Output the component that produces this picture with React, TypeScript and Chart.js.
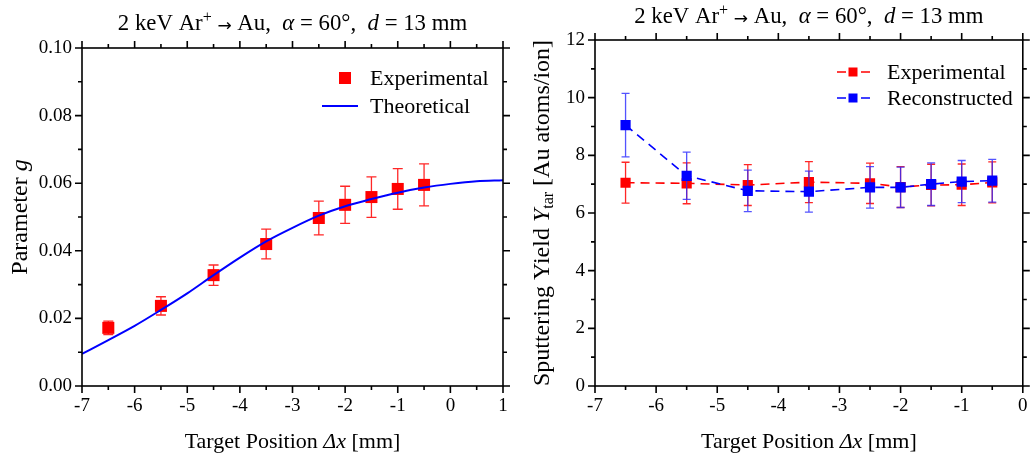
import React, { useEffect, useRef } from 'react';
import { Chart, registerables } from 'chart.js';

Chart.register(...registerables);

const SERIF = '"Liberation Serif", "Times New Roman", Times, serif';
const SANS = '"DejaVu Sans", sans-serif';

// ---------- Left panel data ----------
const leftXTicks = [-7, -6, -5, -4, -3, -2, -1, 0, 1];
const leftYTicks = [0, 0.02, 0.04, 0.06, 0.08, 0.1];
const expPosL = [-6.5, -5.5, -4.5, -3.5, -2.5, -2, -1.5, -1, -0.5];
const expG = [0.0172, 0.0237, 0.0328, 0.042, 0.0497, 0.0536, 0.0559, 0.0583, 0.0595];
const expGErr = [0.002, 0.0027, 0.003, 0.0044, 0.005, 0.0055, 0.006, 0.006, 0.0062];
const theoPos = [-7, -6.5, -6, -5.5, -5, -4.5, -4, -3.5, -3, -2.5, -2, -1.5, -1, -0.5, 0, 0.5, 1];
const theoG = [0.0095, 0.0136, 0.0178, 0.0225, 0.0274, 0.0328, 0.038, 0.0428, 0.0468, 0.0504, 0.0532, 0.0553, 0.0572, 0.0587, 0.0598, 0.0606, 0.0609];

// ---------- Right panel data ----------
const rightXTicks = [-7, -6, -5, -4, -3, -2, -1, 0];
const rightYTicks = [0, 2, 4, 6, 8, 10, 12];
const posR = [-6.5, -5.5, -4.5, -3.5, -2.5, -2, -1.5, -1, -0.5];
const expYield = [7.05, 7.03, 6.97, 7.07, 7.03, 6.9, 6.97, 6.98, 7.06];
const expYieldErr = [0.71, 0.71, 0.71, 0.71, 0.7, 0.71, 0.72, 0.72, 0.71];
const recYield = [9.05, 7.29, 6.77, 6.74, 6.89, 6.89, 7.0, 7.09, 7.12];
const recYieldErr = [1.1, 0.82, 0.72, 0.71, 0.72, 0.7, 0.74, 0.73, 0.74];

type Seg = { t: string; it?: boolean; sz?: number; dy?: number; fam?: string };

function drawRich(ctx: CanvasRenderingContext2D, segs: Seg[], cx: number, cy: number, base: number, rot = false) {
  ctx.save();
  ctx.translate(cx, cy);
  if (rot) ctx.rotate(-Math.PI / 2);
  const font = (s: Seg) => `${s.it ? 'italic ' : ''}${s.sz ?? base}px ${s.fam ?? SERIF}`;
  let total = 0;
  for (const s of segs) {
    ctx.font = font(s);
    total += ctx.measureText(s.t).width;
  }
  let x = -total / 2;
  ctx.fillStyle = '#000';
  ctx.textAlign = 'left';
  ctx.textBaseline = 'alphabetic';
  const by = base * 0.33;
  for (const s of segs) {
    ctx.font = font(s);
    ctx.fillText(s.t, x, by + (s.dy ?? 0));
    x += ctx.measureText(s.t).width;
  }
  ctx.restore();
}

const titleSegs: Seg[] = [
  { t: '2 keV Ar' },
  { t: '+', sz: 16, dy: -8 },
  { t: ' ' },
  { t: '\u2192', sz: 17, fam: SANS, dy: 1 },
  { t: ' Au,  ' },
  { t: '\u03B1', it: true },
  { t: ' = 60\u00B0,  ' },
  { t: 'd', it: true },
  { t: ' = 13 mm' },
];
const xTitleSegs: Seg[] = [{ t: 'Target Position ' }, { t: '\u0394x', it: true }, { t: ' [mm]' }];

const errorBarPlugin = {
  id: 'errorBars',
  beforeDatasetDraw(chart: any, args: any) {
    const ds = chart.data.datasets[args.index];
    if (!ds.errors) return;
    const ctx = chart.ctx as CanvasRenderingContext2D;
    const xs = chart.scales.x;
    const ys = chart.scales.y;
    const cap = ds.capHalf ?? 5;
    ctx.save();
    ctx.strokeStyle = ds.errorColor;
    ctx.lineWidth = 1.3;
    ctx.beginPath();
    ds.data.forEach((p: any, i: number) => {
      const e = ds.errors[i];
      const px = xs.getPixelForValue(p.x);
      const t = ys.getPixelForValue(p.y + e);
      const b = ys.getPixelForValue(p.y - e);
      ctx.moveTo(px, t);
      ctx.lineTo(px, b);
      ctx.moveTo(px - cap, t);
      ctx.lineTo(px + cap, t);
      ctx.moveTo(px - cap, b);
      ctx.lineTo(px + cap, b);
    });
    ctx.stroke();
    ctx.restore();
  },
};

const framePlugin = {
  id: 'frameTicks',
  afterDatasetsDraw(chart: any) {
    const ctx = chart.ctx as CanvasRenderingContext2D;
    const a = chart.chartArea;
    const xs = chart.scales.x;
    const ys = chart.scales.y;
    const xt: number[] = xs.ticks.map((t: any) => t.value);
    const yt: number[] = ys.ticks.map((t: any) => t.value);
    const mids = (arr: number[]) => arr.slice(1).map((v, i) => (v + arr[i]) / 2);
    const MAJ = 7;
    const MIN = 4;
    ctx.save();
    ctx.strokeStyle = '#000';
    ctx.lineWidth = 1.6;
    ctx.strokeRect(a.left, a.top, a.right - a.left, a.bottom - a.top);
    ctx.beginPath();
    const xTick = (v: number, len: number) => {
      const px = xs.getPixelForValue(v);
      ctx.moveTo(px, a.bottom);
      ctx.lineTo(px, a.bottom + len);
      ctx.moveTo(px, a.top);
      ctx.lineTo(px, a.top - len);
    };
    const yTick = (v: number, len: number) => {
      const py = ys.getPixelForValue(v);
      ctx.moveTo(a.left, py);
      ctx.lineTo(a.left - len, py);
      ctx.moveTo(a.right, py);
      ctx.lineTo(a.right + len, py);
    };
    xt.forEach((v) => xTick(v, MAJ));
    mids(xt).forEach((v) => xTick(v, MIN));
    yt.forEach((v) => yTick(v, MAJ));
    mids(yt).forEach((v) => yTick(v, MIN));
    ctx.stroke();
    ctx.restore();
  },
};

function makeOptions(p: {
  yWidth: number; xHeight: number; padTop: number; padRight: number;
  xMin: number; xMax: number; yMin: number; yMax: number;
  xTicks: number[]; yTicks: number[]; yFmt: (v: number) => string;
}) {
  const tickFont = { family: SERIF, size: 19 };
  return {
    responsive: false,
    maintainAspectRatio: false,
    animation: false,
    devicePixelRatio: 1,
    events: [],
    layout: { padding: { top: p.padTop, right: p.padRight, left: 0, bottom: 0 } },
    plugins: { legend: { display: false }, tooltip: { enabled: false }, title: { display: false } },
    scales: {
      x: {
        type: 'linear',
        min: p.xMin,
        max: p.xMax,
        afterBuildTicks: (s: any) => { s.ticks = p.xTicks.map((v) => ({ value: v })); },
        afterFit: (s: any) => { s.height = p.xHeight; s.paddingLeft = 0; s.paddingRight = 0; },
        grid: { display: false, drawTicks: false },
        border: { display: false },
        ticks: { color: '#000', font: tickFont, padding: 9, maxRotation: 0, autoSkip: false, callback: (v: any) => String(v) },
      },
      y: {
        type: 'linear',
        min: p.yMin,
        max: p.yMax,
        afterBuildTicks: (s: any) => { s.ticks = p.yTicks.map((v) => ({ value: v })); },
        afterFit: (s: any) => { s.width = p.yWidth; s.paddingTop = 0; s.paddingBottom = 0; },
        grid: { display: false, drawTicks: false },
        border: { display: false },
        ticks: { color: '#000', font: tickFont, padding: 10, autoSkip: false, callback: (v: any) => p.yFmt(Number(v)) },
      },
    },
  };
}

function legendText(ctx: CanvasRenderingContext2D, text: string, x: number, y: number) {
  ctx.save();
  ctx.fillStyle = '#000';
  ctx.font = `22px ${SERIF}`;
  ctx.textAlign = 'left';
  ctx.textBaseline = 'alphabetic';
  ctx.fillText(text, x, y + 7);
  ctx.restore();
}

const TITLE_SIZE = 22.8;

function leftConfig(): any {
  const deco = {
    id: 'decoLeft',
    afterDraw(chart: any) {
      const ctx = chart.ctx as CanvasRenderingContext2D;
      const a = chart.chartArea;
      const cx = (a.left + a.right) / 2;
      drawRich(ctx, titleSegs, cx, 22, TITLE_SIZE);
      drawRich(ctx, xTitleSegs, cx, 441, 22);
      drawRich(ctx, [{ t: 'Parameter ' }, { t: 'g', it: true }], 19, (a.top + a.bottom) / 2, 24, true);
      ctx.save();
      ctx.fillStyle = '#ff0000';
      ctx.fillRect(339, 72, 12, 12);
      ctx.strokeStyle = '#0000ff';
      ctx.lineWidth = 2;
      ctx.beginPath();
      ctx.moveTo(322, 106);
      ctx.lineTo(358, 106);
      ctx.stroke();
      ctx.restore();
      legendText(ctx, 'Experimental', 370, 78);
      legendText(ctx, 'Theoretical', 370, 106);
    },
  };
  return {
    type: 'scatter',
    data: {
      datasets: [
        {
          label: 'Theoretical',
          data: theoPos.map((x, i) => ({ x, y: theoG[i] })),
          showLine: true,
          borderColor: '#0000ff',
          borderWidth: 2,
          pointRadius: 0,
          cubicInterpolationMode: 'monotone',
        },
        {
          label: 'Experimental',
          data: expPosL.map((x, i) => ({ x, y: expG[i] })),
          showLine: false,
          pointStyle: 'rect',
          pointRadius: 8.5,
          pointBorderWidth: 0,
          backgroundColor: '#ff0000',
          borderColor: '#ff0000',
          errors: expGErr,
          errorColor: 'rgba(255,0,0,0.85)',
          capHalf: 5,
        },
      ],
    },
    options: makeOptions({
      yWidth: 82, xHeight: 73, padTop: 48, padRight: 12,
      xMin: -7, xMax: 1, yMin: 0, yMax: 0.1,
      xTicks: leftXTicks, yTicks: leftYTicks, yFmt: (v) => v.toFixed(2),
    }),
    plugins: [errorBarPlugin, framePlugin, deco],
  };
}

function rightConfig(): any {
  const deco = {
    id: 'decoRight',
    afterDraw(chart: any) {
      const ctx = chart.ctx as CanvasRenderingContext2D;
      const a = chart.chartArea;
      const cx = (a.left + a.right) / 2;
      drawRich(ctx, titleSegs, cx, 15, TITLE_SIZE);
      drawRich(ctx, xTitleSegs, cx, 441, 22);
      drawRich(
        ctx,
        [
          { t: 'Sputtering Yield ' },
          { t: 'Y', it: true },
          { t: 'tar', sz: 16, dy: 4 },
          { t: ' [Au atoms/ion]' },
        ],
        26,
        (a.top + a.bottom) / 2,
        24,
        true,
      );
      const item = (color: string, y: number) => {
        ctx.save();
        ctx.strokeStyle = color;
        ctx.fillStyle = color;
        ctx.lineWidth = 1.6;
        ctx.beginPath();
        ctx.moveTo(322, y);
        ctx.lineTo(331, y);
        ctx.moveTo(346, y);
        ctx.lineTo(355, y);
        ctx.stroke();
        ctx.fillRect(333.5, y - 4.5, 9, 9);
        ctx.restore();
      };
      item('#ff0000', 72);
      item('#0000ff', 98);
      legendText(ctx, 'Experimental', 372, 72);
      legendText(ctx, 'Reconstructed', 372, 98);
    },
  };
  return {
    type: 'scatter',
    data: {
      datasets: [
        {
          label: 'Reconstructed',
          data: posR.map((x, i) => ({ x, y: recYield[i] })),
          showLine: true,
          borderColor: '#0000ff',
          borderWidth: 1.6,
          borderDash: [9, 6],
          pointStyle: 'rect',
          pointRadius: 7.2,
          pointBorderWidth: 0,
          backgroundColor: '#0000ff',
          errors: recYieldErr,
          errorColor: 'rgba(40,40,255,0.8)',
          capHalf: 4,
        },
        {
          label: 'Experimental',
          data: posR.map((x, i) => ({ x, y: expYield[i] })),
          showLine: true,
          borderColor: '#ff0000',
          borderWidth: 1.6,
          borderDash: [9, 6],
          pointStyle: 'rect',
          pointRadius: 7.2,
          pointBorderWidth: 0,
          backgroundColor: '#ff0000',
          errors: expYieldErr,
          errorColor: 'rgba(255,0,0,0.85)',
          capHalf: 4,
        },
      ],
    },
    options: makeOptions({
      yWidth: 80, xHeight: 73, padTop: 40, padRight: 6,
      xMin: -7, xMax: 0, yMin: 0, yMax: 12,
      xTicks: rightXTicks, yTicks: rightYTicks, yFmt: (v) => String(v),
    }),
    plugins: [errorBarPlugin, framePlugin, deco],
  };
}

export default function App() {
  const lRef = useRef<HTMLCanvasElement>(null);
  const rRef = useRef<HTMLCanvasElement>(null);
  useEffect(() => {
    const c1 = new Chart(lRef.current as HTMLCanvasElement, leftConfig());
    const c2 = new Chart(rRef.current as HTMLCanvasElement, rightConfig());
    return () => {
      c1.destroy();
      c2.destroy();
    };
  }, []);
  return (
    <div style={{ position: 'fixed', left: 0, top: 0, width: 1030, height: 459, background: '#fff' }}>
      <canvas ref={lRef} width={515} height={459} style={{ position: 'absolute', left: 0, top: 0, width: 515, height: 459 }} />
      <canvas ref={rRef} width={515} height={459} style={{ position: 'absolute', left: 515, top: 0, width: 515, height: 459 }} />
    </div>
  );
}
